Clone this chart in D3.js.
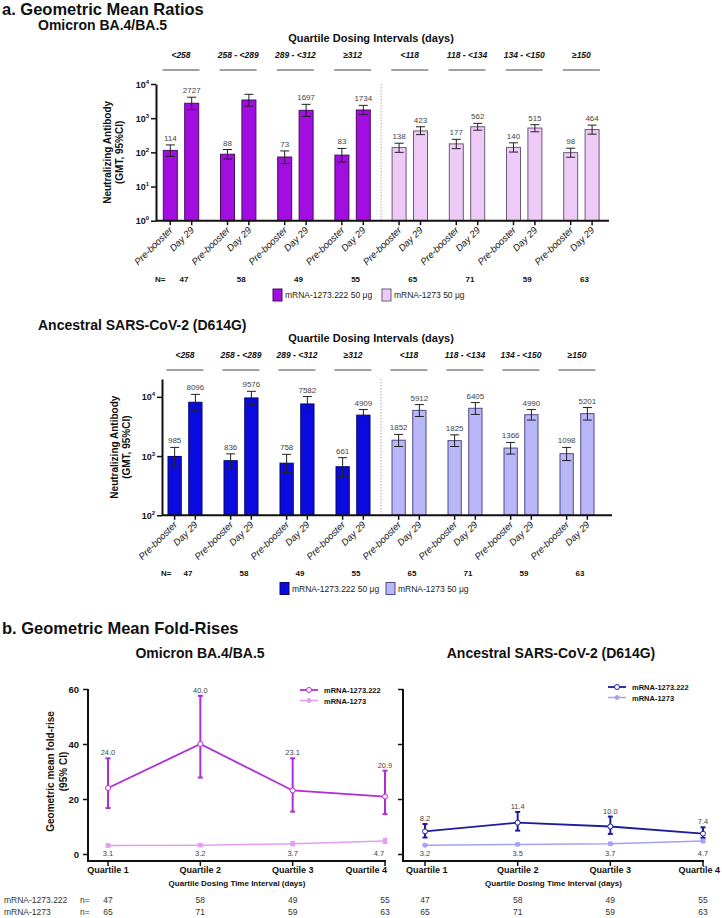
<!DOCTYPE html>
<html><head><meta charset="utf-8">
<script src="https://cdn.jsdelivr.net/npm/d3@7"></script>
<style>
body{margin:0;background:#fff}
svg{display:block}
text{font-family:"Liberation Sans",Arial,Helvetica,sans-serif}
</style>
</head><body>
<svg id="c" width="722" height="918"></svg>
<script>
// ---------------- DATA ----------------
const groups = ["<258","258 - <289","289 - <312","≥312","<118","118 - <134","134 - <150","≥150"];
const groupN = [47,58,49,55,65,71,59,63];
const timepoints = ["Pre-booster","Day 29"];
const vaccines = ["mRNA-1273.222 50 μg","mRNA-1273 50 μg"];

// Omicron BA.4/BA.5 GMT
const omiPre    = [114, 88, 73, 83, 138, 177, 140, 98];
const omiPreLo  = [76, 64, 47, 52, 100, 128, 102, 72];
const omiPreHi  = [165, 121, 110, 130, 185, 240, 190, 132];
const omiD29    = [2727, 3400, 1697, 1734, 423, 562, 515, 464];
const omiD29Lo  = [1780, 2250, 1120, 1270, 330, 445, 400, 340];
const omiD29Hi  = [4100, 4990, 2540, 2370, 560, 705, 645, 625];
const omiD29Labeled = [true, false, true, true, true, true, true, true];

// Ancestral D614G GMT
const ancPre    = [985, 836, 758, 661, 1852, 1825, 1366, 1098];
const ancPreLo  = [680, 630, 525, 455, 1450, 1450, 1080, 840];
const ancPreHi  = [1400, 1090, 1070, 940, 2320, 2280, 1700, 1400];
const ancD29    = [8096, 9576, 7582, 4909, 5912, 6405, 4990, 5201];
const ancD29Lo  = [5900, 7400, 5650, 3850, 4650, 5050, 4050, 4050];
const ancD29Hi  = [11000, 12400, 10100, 6100, 7400, 8000, 6100, 6600];

// Fold-rises
const quartiles = ["Quartile 1","Quartile 2","Quartile 3","Quartile 4"];
const omi222    = [24.0, 40.0, 23.1, 20.9];
const omi222Lo  = [16.7, 27.8, 15.4, 14.5];
const omi222Hi  = [34.8, 57.5, 34.8, 30.3];
const omi1273   = [3.1, 3.2, 3.7, 4.7];
const omi1273Lo = [2.6, 2.8, 3.1, 3.9];
const omi1273Hi = [3.6, 3.7, 4.4, 5.6];
const anc222    = [8.2, 11.4, 10.0, 7.4];
const anc222Lo  = [6.0, 8.5, 7.3, 5.9];
const anc222Hi  = [10.9, 15.3, 13.6, 9.7];
const anc1273   = [3.2, 3.5, 3.7, 4.7];
const anc1273Lo = [2.9, 3.1, 3.3, 4.2];
const anc1273Hi = [3.5, 3.9, 4.2, 5.2];
const n222  = [47, 58, 49, 55];
const n1273 = [65, 71, 59, 63];

// ---------------- DRAW ----------------
const svg = d3.select("#c");
const T = (x, y, s, o) => {
  const t = svg.append("text").attr("x", x).attr("y", y).text(s);
  o = o || {};
  t.attr("font-size", o.size || 10).attr("font-weight", o.bold ? "bold" : null)
   .attr("font-style", o.italic ? "italic" : null).attr("fill", o.fill || "#111")
   .attr("text-anchor", o.anchor || "start");
  return t;
};

T(2, 15, "a. Geometric Mean Ratios", {size: 16.5, bold: true});
T(2, 634, "b. Geometric Mean Fold-Rises", {size: 16.5, bold: true});

function barChart(cfg) {
  const g = svg.append("g");
  const x = d3.scaleBand().domain(groups).range(cfg.xr).padding(0);
  const inner = d3.scaleBand().domain(timepoints)
     .range([x.bandwidth()/2 - cfg.half, x.bandwidth()/2 + cfg.half]).paddingInner(cfg.pin);
  const y = d3.scaleLog().domain(cfg.yd).range(cfg.yr);
  const yB = cfg.yr[0];

  T(38, cfg.top + 12, cfg.title, {size: 14, bold: true});
  T(371, cfg.top + 24, "Quartile Dosing Intervals (days)", {size: 11, bold: true, anchor: "middle"});
  groups.forEach(gr => {
    const cx = x(gr) + x.bandwidth()/2;
    T(cx, cfg.top + 40, gr, {size: 8.5, bold: true, italic: true, anchor: "middle"});
    g.append("line").attr("x1", cx - 18.5).attr("x2", cx + 18.5)
      .attr("y1", cfg.top + 52).attr("y2", cfg.top + 52).attr("stroke", "#444").attr("stroke-width", 1);
  });

  // separator
  const sepX = x(groups[4]);
  g.append("line").attr("x1", sepX).attr("x2", sepX).attr("y1", cfg.yr[1]).attr("y2", yB)
    .attr("stroke", "#bbb").attr("stroke-width", 1.2).attr("stroke-dasharray", "1.5,1.5");

  const series = [
    {tp: "Pre-booster", v: cfg.pre, lo: cfg.preLo, hi: cfg.preHi, lab: cfg.pre.map(() => true)},
    {tp: "Day 29", v: cfg.d29, lo: cfg.d29Lo, hi: cfg.d29Hi, lab: cfg.d29Lab}
  ];
  series.forEach(s => {
    groups.forEach((gr, i) => {
      const bx = x(gr) + inner(s.tp);
      const bw = inner.bandwidth();
      const cx = bx + bw/2;
      const fill = i < 4 ? cfg.c1 : cfg.c2;
      const stroke = i < 4 ? cfg.s1 : cfg.s2;
      g.append("rect").attr("x", bx).attr("y", y(s.v[i])).attr("width", bw)
        .attr("height", yB - y(s.v[i])).attr("fill", fill).attr("stroke", stroke).attr("stroke-width", 1);
      const yl = y(s.lo[i]), yh = y(s.hi[i]);
      g.append("line").attr("x1", cx).attr("x2", cx).attr("y1", yl).attr("y2", yh).attr("stroke", "#222").attr("stroke-width", 1);
      [yl, yh].forEach(yy => g.append("line").attr("x1", cx - 4.5).attr("x2", cx + 4.5)
        .attr("y1", yy).attr("y2", yy).attr("stroke", "#222").attr("stroke-width", 1));
      if (s.lab[i]) T(cx, yh - 4, String(s.v[i]), {size: 8, fill: "#444", anchor: "middle"});
      // x tick
      g.append("line").attr("x1", cx).attr("x2", cx).attr("y1", yB).attr("y2", yB + 4.5).attr("stroke", "#111").attr("stroke-width", 1.5);
      T(0, 0, s.tp, {size: 9.5, italic: true, anchor: "end"})
        .attr("transform", `translate(${cx + 3},${yB + 10}) rotate(-45)`);
    });
  });

  // axes
  g.append("line").attr("x1", cfg.axX).attr("x2", cfg.axEnd).attr("y1", yB).attr("y2", yB).attr("stroke", "#111").attr("stroke-width", 2);
  const ya = g.append("g").attr("transform", `translate(${cfg.axX},0)`)
    .call(d3.axisLeft(y).tickValues(cfg.ticks).tickSize(5).tickSizeOuter(0).tickFormat(""));
  ya.select(".domain").attr("stroke", "#111").attr("stroke-width", 2);
  ya.selectAll(".tick line").attr("stroke", "#111").attr("stroke-width", 1.5);
  cfg.ticks.forEach(t => {
    const e = Math.round(Math.log10(t));
    const tx = T(cfg.axX - 7, y(t) + 3.5, "10", {size: 9, bold: true, anchor: "end"});
    tx.append("tspan").attr("dy", -4).attr("font-size", 6).text(e);
  });
  // y label
  const ymid = (cfg.yr[0] + cfg.yr[1]) / 2;
  T(0, 0, "Neutralizing Antibody", {size: 10, bold: true, anchor: "middle"})
    .attr("transform", `translate(${cfg.ylx},${ymid}) rotate(-90)`);
  T(0, 0, "(GMT, 95%CI)", {size: 10, bold: true, anchor: "middle"})
    .attr("transform", `translate(${cfg.ylx + 12},${ymid}) rotate(-90)`);

  // N row
  T(cfg.axX - 1, cfg.nY, "N=", {size: 8, bold: true});
  groups.forEach((gr, i) => T(x(gr) + x.bandwidth()/2 + 3, cfg.nY, String(groupN[i]), {size: 8, bold: true, anchor: "middle"}));

  // legend
  const ly = cfg.legY;
  [[cfg.legX1, cfg.c1, cfg.s1, vaccines[0]], [cfg.legX2, cfg.c2, cfg.s2, vaccines[1]]].forEach(([lx, c, s, lab]) => {
    g.append("rect").attr("x", lx).attr("y", ly - 6).attr("width", 9).attr("height", 12).attr("fill", c).attr("stroke", s).attr("stroke-width", 1);
    T(lx + 12, ly + 3, lab, {size: 8.5, fill: "#222"});
  });
}

barChart({
  top: 18, title: "Omicron BA.4/BA.5",
  xr: [152.4, 610], half: 17.7, pin: 0.346,
  yd: [1, 10000], yr: [220.7, 84], ticks: [1, 10, 100, 1000, 10000],
  axX: 156, axEnd: 609, ylx: 111,
  pre: omiPre, preLo: omiPreLo, preHi: omiPreHi,
  d29: omiD29, d29Lo: omiD29Lo, d29Hi: omiD29Hi, d29Lab: omiD29Labeled,
  c1: "#a20de0", s1: "#4a0b63", c2: "#eecbf7", s2: "#6e5878",
  nY: 281.5, legY: 295, legX1: 273, legX2: 382
});

barChart({
  top: 318, title: "Ancestral SARS-CoV-2 (D614G)",
  xr: [157, 605], half: 17, pin: 0.36,
  yd: [100, 20000], yr: [515.3, 379], ticks: [100, 1000, 10000],
  axX: 162, axEnd: 612, ylx: 118,
  pre: ancPre, preLo: ancPreLo, preHi: ancPreHi,
  d29: ancD29, d29Lo: ancD29Lo, d29Hi: ancD29Hi, d29Lab: ancD29.map(() => true),
  c1: "#0b0be0", s1: "#06066e", c2: "#b9b7fa", s2: "#4d4b80",
  nY: 576, legY: 588.5, legX1: 280, legX2: 386
});

// ---------------- LINE CHARTS ----------------
const yL = d3.scaleLinear().domain([0, 60]).range([854, 689]);
const axisY = 861;

function lineChart(cfg) {
  const g = svg.append("g");
  const x = d3.scalePoint().domain(quartiles).range(cfg.xr);
  T(cfg.titleX, 658, cfg.title, {size: 14, bold: true, anchor: "middle"});

  // axes
  g.append("line").attr("x1", cfg.axX).attr("x2", cfg.axX).attr("y1", yL(60)).attr("y2", axisY).attr("stroke", "#111").attr("stroke-width", 2);
  const ya = g.append("g").attr("transform", `translate(${cfg.axX},0)`)
    .call(d3.axisLeft(yL).tickValues([0, 20, 40, 60]).tickSize(5).tickSizeOuter(0).tickFormat(cfg.ylabels ? d3.format("d") : ""));
  ya.select(".domain").remove();
  ya.selectAll(".tick line").attr("stroke", "#111").attr("stroke-width", 1.5);
  ya.selectAll(".tick text").attr("font-size", 9.5).attr("font-weight", "bold").attr("fill", "#111")
    .attr("font-family", '"Liberation Sans",Arial,sans-serif').attr("dx", -1);
  g.append("line").attr("x1", cfg.axX - 1).attr("x2", cfg.axEnd).attr("y1", axisY).attr("y2", axisY).attr("stroke", "#111").attr("stroke-width", 2);
  quartiles.forEach((q, i) => {
    g.append("line").attr("x1", x(q)).attr("x2", x(q)).attr("y1", axisY).attr("y2", axisY + 5).attr("stroke", "#111").attr("stroke-width", 1.5);
    const lp = cfg.qlab[i];
    T(lp[0] === null ? x(q) : lp[0], 873, q, {size: 9, bold: true, anchor: lp[1]});
  });
  T((cfg.axX + cfg.axEnd) / 2, 886, "Quartile Dosing Time Interval (days)", {size: 8, bold: true, anchor: "middle"});

  if (cfg.ylabels) {
    const ym = (yL(60) + yL(0)) / 2;
    T(0, 0, "Geometric mean fold-rise", {size: 10, bold: true, anchor: "middle"}).attr("transform", `translate(54,${ym}) rotate(-90)`);
    T(0, 0, "(95% CI)", {size: 10, bold: true, anchor: "middle"}).attr("transform", `translate(67,${ym}) rotate(-90)`);
  }

  const line = d3.line().x((d, i) => x(quartiles[i])).y(d => yL(d));
  cfg.series.forEach(s => {
    s.v.forEach((v, i) => {
      const cx = x(quartiles[i]);
      g.append("line").attr("x1", cx).attr("x2", cx).attr("y1", yL(s.lo[i])).attr("y2", yL(s.hi[i])).attr("stroke", s.c).attr("stroke-width", s.ew);
      [s.lo[i], s.hi[i]].forEach(vv => g.append("line").attr("x1", cx - 2.5).attr("x2", cx + 2.5)
        .attr("y1", yL(vv)).attr("y2", yL(vv)).attr("stroke", s.c).attr("stroke-width", s.ew));
    });
    g.append("path").datum(s.v).attr("d", line).attr("fill", "none").attr("stroke", s.c).attr("stroke-width", s.lw);
    s.v.forEach((v, i) => {
      const cx = x(quartiles[i]);
      g.append("circle").attr("cx", cx).attr("cy", yL(v)).attr("r", s.r).attr("fill", s.open ? "#fff" : s.c).attr("stroke", s.c).attr("stroke-width", 1);
      const ly = s.above ? yL(s.hi[i]) - 3 : 856;
      T(cx + (s.labDx ? s.labDx[i] : 0), ly, v.toFixed(1), {size: 7.5, fill: "#444", anchor: "middle"});
    });
  });

  // legend
  cfg.series.forEach((s, k) => {
    const ly = cfg.legY + k * 10.5;
    g.append("line").attr("x1", cfg.legX).attr("x2", cfg.legX + 18).attr("y1", ly).attr("y2", ly).attr("stroke", s.c).attr("stroke-width", s.lw);
    g.append("circle").attr("cx", cfg.legX + 9).attr("cy", ly).attr("r", s.r).attr("fill", s.open ? "#fff" : s.c).attr("stroke", s.c);
    T(cfg.legX + 24, ly + 3, s.name, {size: 7.5, bold: true});
  });
}

lineChart({
  title: "Omicron BA.4/BA.5", titleX: 200, xr: [108, 385], axX: 88, axEnd: 386, ylabels: true,
  qlab: [[null, "middle"], [null, "middle"], [null, "middle"], [387, "end"]],
  legX: 300, legY: 690,
  series: [
    {name: "mRNA-1273.222", v: omi222, lo: omi222Lo, hi: omi222Hi, c: "#b12bd6", lw: 1.8, ew: 2, r: 2.5, open: true, above: true},
    {name: "mRNA-1273", v: omi1273, lo: omi1273Lo, hi: omi1273Hi, c: "#e49df2", lw: 1.5, ew: 1.5, r: 2, open: false, above: false, labDx: [0, 0, 0, -6]}
  ]
});

lineChart({
  title: "Ancestral SARS-CoV-2 (D614G)", titleX: 551, xr: [425, 703], axX: 403, axEnd: 704, ylabels: false,
  qlab: [[406, "start"], [null, "middle"], [null, "middle"], [720, "end"]],
  legX: 608, legY: 687,
  series: [
    {name: "mRNA-1273.222", v: anc222, lo: anc222Lo, hi: anc222Hi, c: "#1c1c9c", lw: 1.8, ew: 2, r: 2.5, open: true, above: true},
    {name: "mRNA-1273", v: anc1273, lo: anc1273Lo, hi: anc1273Hi, c: "#a4a2f2", lw: 1.5, ew: 1.5, r: 2, open: false, above: false}
  ]
});

// n rows
const xLq = d3.scalePoint().domain(quartiles).range([108, 385]);
const xRq = d3.scalePoint().domain(quartiles).range([425, 703]);
[["mRNA-1273.222", n222, 903], ["mRNA-1273", n1273, 915]].forEach(([lab, ns, yy]) => {
  T(4, yy, lab, {size: 8.5, fill: "#333"});
  T(80, yy, "n=", {size: 8.5, fill: "#333"});
  quartiles.forEach((q, i) => {
    T(xLq(q), yy, String(ns[i]), {size: 8.5, fill: "#333", anchor: "middle"});
    T(xRq(q), yy, String(ns[i]), {size: 8.5, fill: "#333", anchor: "middle"});
  });
});
</script>
</body></html>
